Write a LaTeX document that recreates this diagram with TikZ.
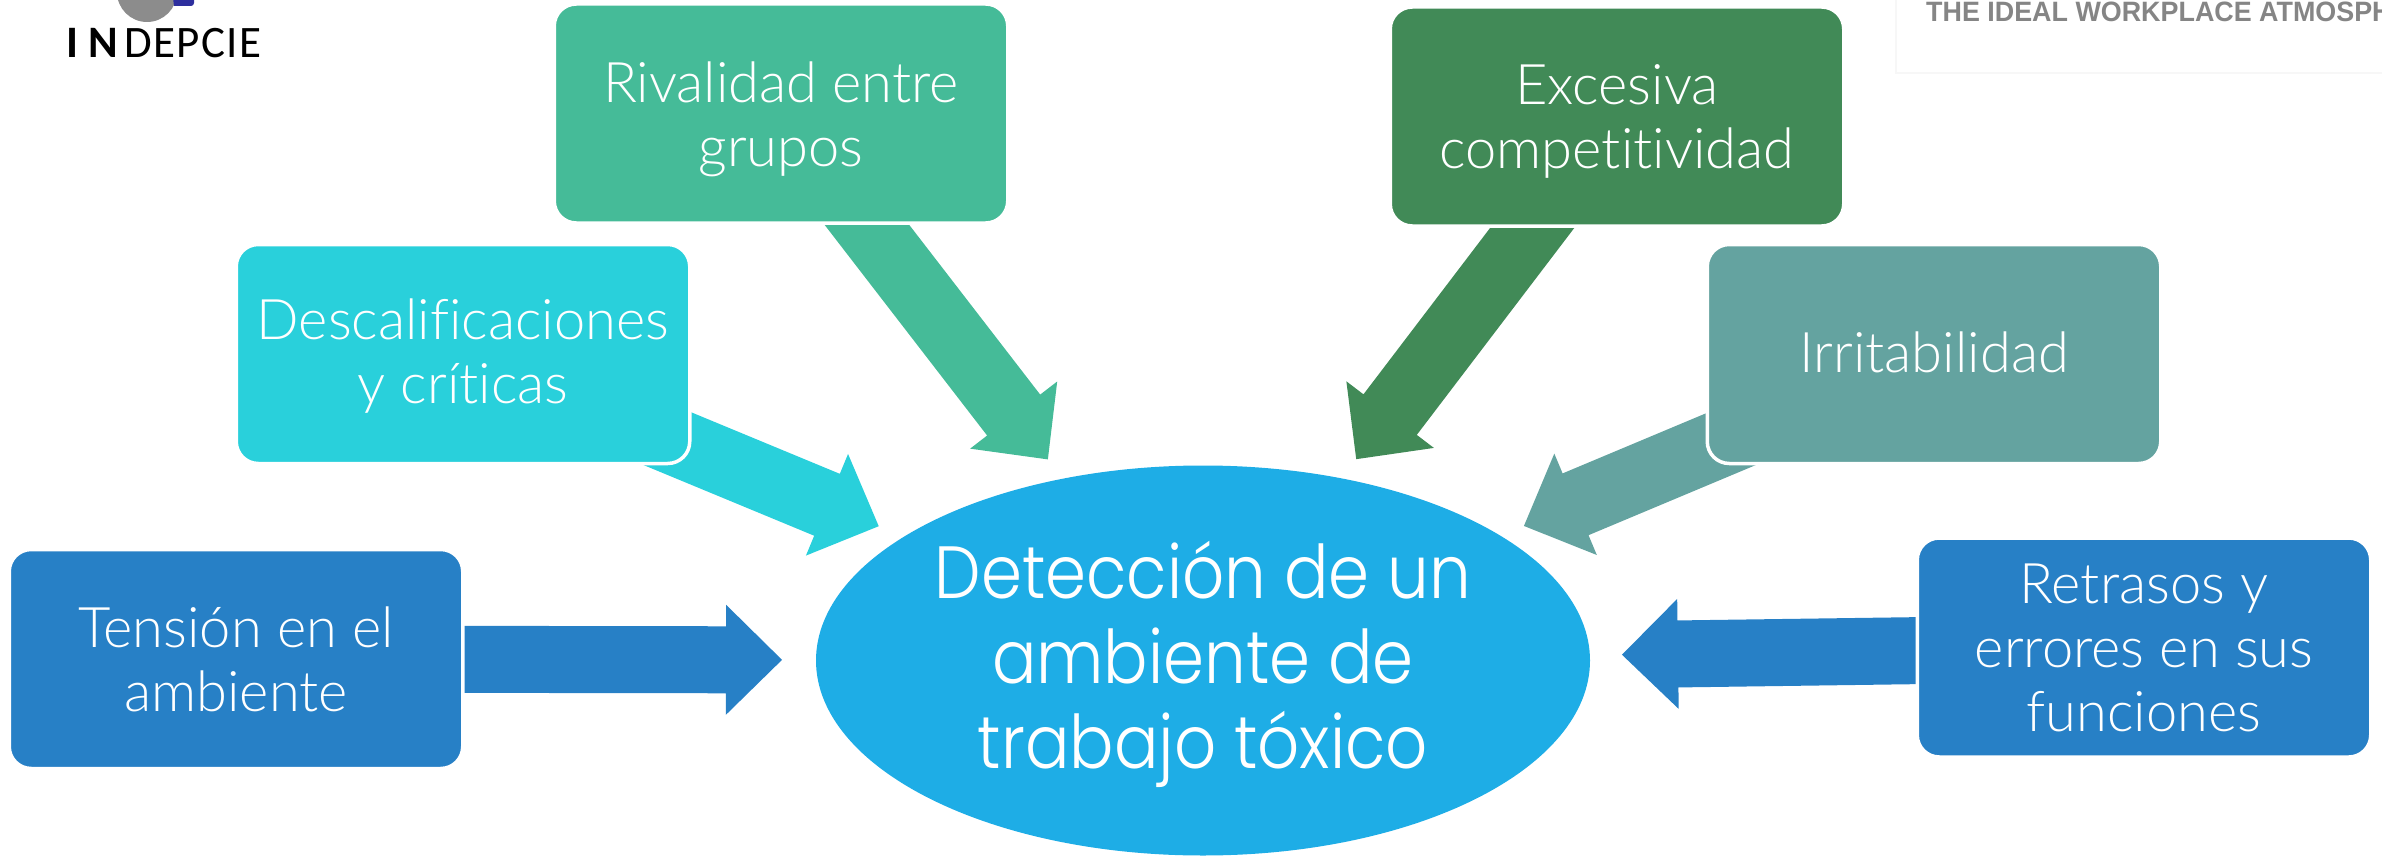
\documentclass[tikz,border=0pt]{standalone}
\usepackage{fontspec}
\usetikzlibrary{shapes.geometric,calc}
\setmainfont{Lato}[UprightFont=* Light,BoldFont=Lato,Ligatures=NoCommon]
\newfontfamily\centrefont{Poppins}[UprightFont=* Light,FakeStretch=0.89]
\newfontfamily\logofont{Carlito}[LetterSpace=3]
\newfontfamily\headfont{Liberation Sans}[FakeStretch=0.96]
\definecolor{cblue}{HTML}{2780C6}
\definecolor{ccyan}{HTML}{29D0DB}
\definecolor{cgreen}{HTML}{45BB98}
\definecolor{cdark}{HTML}{418A57}
\definecolor{cteal}{HTML}{64A3A0}
\definecolor{csky}{HTML}{1EADE6}
\definecolor{clogo}{HTML}{2E2F9E}
\pgfdeclarelayer{under}
\pgfsetlayers{under,main}
\tikzset{
  centrenode/.style={ellipse,minimum width=774pt,minimum height=390pt,inner sep=0pt,fill=csky},
  centretext/.style={inner sep=0pt,text=white,align=center,font=\fontsize{74}{85}\selectfont\centrefont},
  boxnode/.style 2 args={rectangle,rounded corners=22pt,draw=white,line width=3.5pt,
    minimum width=453.5pt,minimum height=219pt,inner sep=0pt,align=center,
    text=white,font=\fontsize{56}{64}\selectfont,
    execute at begin node={\rule[-#1pt]{0pt}{#2pt}}}
}
% colour, from node, to node, gap left before the centre of the target node
\newcommand{\blockarrow}[4]{%
  \fill[#1]
    ($(#2)!33.5pt!90:(#3)$)
    -- ($(#3)!#4pt+56pt!(#2)!33.5pt!-90:(#2)$)
    -- ($(#3)!#4pt+56pt!(#2)!55pt!-90:(#2)$)
    -- ($(#3)!#4pt!(#2)$)
    -- ($(#3)!#4pt+56pt!(#2)!55pt!90:(#2)$)
    -- ($(#3)!#4pt+56pt!(#2)!33.5pt!90:(#2)$)
    -- ($(#2)!33.5pt!-90:(#3)$)
    -- cycle;}
\begin{document}
\begin{tikzpicture}[x=1pt,y=-1pt]
\useasboundingbox (0,0) rectangle (2382,856);
\clip (0,0) rectangle (2382,856);
% logo
\fill[black!45] (147,-8) circle (30);
\fill[clogo] (173,-2) -- (194,-2) -- (194,3) arc[start angle=0,end angle=90,radius=3] -- (174,6) -- cycle;
\node[anchor=base west,inner sep=0pt,font=\fontsize{45}{45}\selectfont\logofont] (logo) at (66,58) {\textbf{I\hspace{10pt}N}\hspace{5pt}DEPCIE};
% header fragment
\draw[black!3,line width=2pt] (1896,0) -- (1896,73) -- (2382,73);
\node[anchor=base west,inner sep=0pt,text=black!48,font=\fontsize{28}{28}\selectfont\headfont\bfseries] (head) at (1926,22) {THE IDEAL WORKPLACE ATMOSPH};
% nodes
\node[centrenode] (centre) at (1203,660.5) {};
\node[centretext] (centrelabel) at (1203,664) {Detección de un\\ambiente de\\trabajo tóxico};
\node[boxnode={0}{1},fill=cblue] (tension) at (236,659) {Tensión en el\\ambiente};
\node[boxnode={0}{109},fill=ccyan] (descal) at (463,354) {Descalificaciones\\y críticas};
\node[boxnode={0}{117},fill=cgreen] (rival) at (781,113.5) {Rivalidad entre\\grupos};
\node[boxnode={0}{114},fill=cdark] (exces) at (1617,116.5) {Excesiva\\competitividad};
\node[boxnode={4}{1},fill=cteal] (irrit) at (1934,354) {Irritabilidad};
\node[boxnode={0}{1},fill=cblue] (retr) at (2144,647.5) {Retrasos y\\errores en sus\\funciones};
% connectors, under the boxes
\begin{pgfonlayer}{under}
\blockarrow{cblue}{tension.center}{centre.center}{421}
\blockarrow{ccyan}{descal.center}{centre.center}{351}
\blockarrow{cgreen}{rival.center}{centre.center}{254}
\blockarrow{cdark}{exces.center}{centre.center}{253}
\blockarrow{cteal}{irrit.center}{centre.center}{348}
\blockarrow{cblue}{retr.center}{centre.center}{419}
\end{pgfonlayer}
\end{tikzpicture}
\end{document}
